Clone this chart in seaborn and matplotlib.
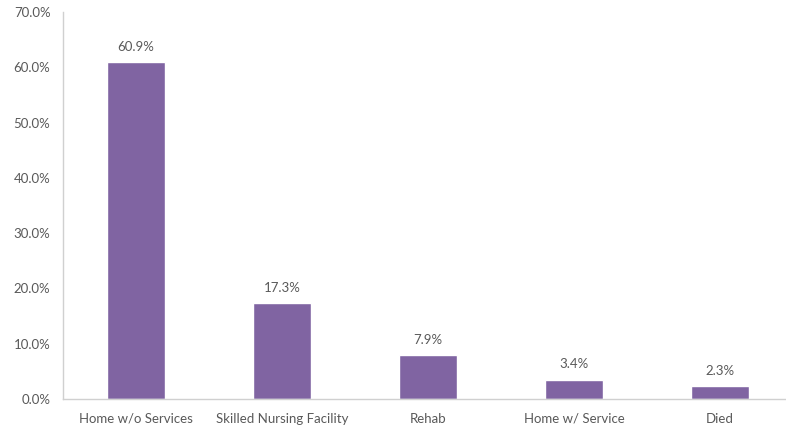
import numpy as np
import matplotlib
matplotlib.use("Agg")
import matplotlib.pyplot as plt
import seaborn as sns
from matplotlib.ticker import PercentFormatter, FixedLocator

# data
categories = ["Home w/o Services", "Skilled Nursing Facility", "Rehab", "Home w/ Service", "Died"]
percents = [60.9, 17.3, 7.9, 3.4, 2.3]
y_ticks = [0, 10, 20, 30, 40, 50, 60, 70]

sns.set_style("white")
plt.rcParams["font.family"] = ["Lato", "DejaVu Sans"]

text_col = "#595959"
axis_col = "#d0d0d0"
bar_col = "#8064a2"

fig = plt.figure(figsize=(7.86, 4.28), dpi=100)
ax = fig.add_axes([63 / 786, 1 - 399 / 428, 730 / 786, 387 / 428])

sns.barplot(x=categories, y=percents, color=bar_col, width=0.4, saturation=1, ax=ax)

ax.set_ylim(0, 70)
ax.set_xlim(-0.5, len(categories) - 0.5)
ax.set_yticks(y_ticks)
ax.yaxis.set_major_formatter(PercentFormatter(decimals=1))

# tick marks sit between categories
ax.xaxis.set_minor_locator(FixedLocator(np.arange(-0.5, len(categories), 1.0)))
ax.tick_params(axis="x", which="major", length=0, pad=10, labelsize=9.5, labelcolor=text_col)
ax.tick_params(axis="x", which="minor", length=4, color=axis_col, width=1, direction="out")
ax.tick_params(axis="y", length=4, color=axis_col, width=1, direction="out", pad=5,
               labelsize=9.5, labelcolor=text_col)

for side in ["top", "right"]:
    ax.spines[side].set_visible(False)
for side in ["left", "bottom"]:
    ax.spines[side].set_color(axis_col)
    ax.spines[side].set_linewidth(1)

for container in ax.containers:
    ax.bar_label(container, labels=[f"{v:.1f}%" for v in percents], padding=7,
                 fontsize=9.5, color=text_col)

fig.savefig("out.png", dpi=100)
